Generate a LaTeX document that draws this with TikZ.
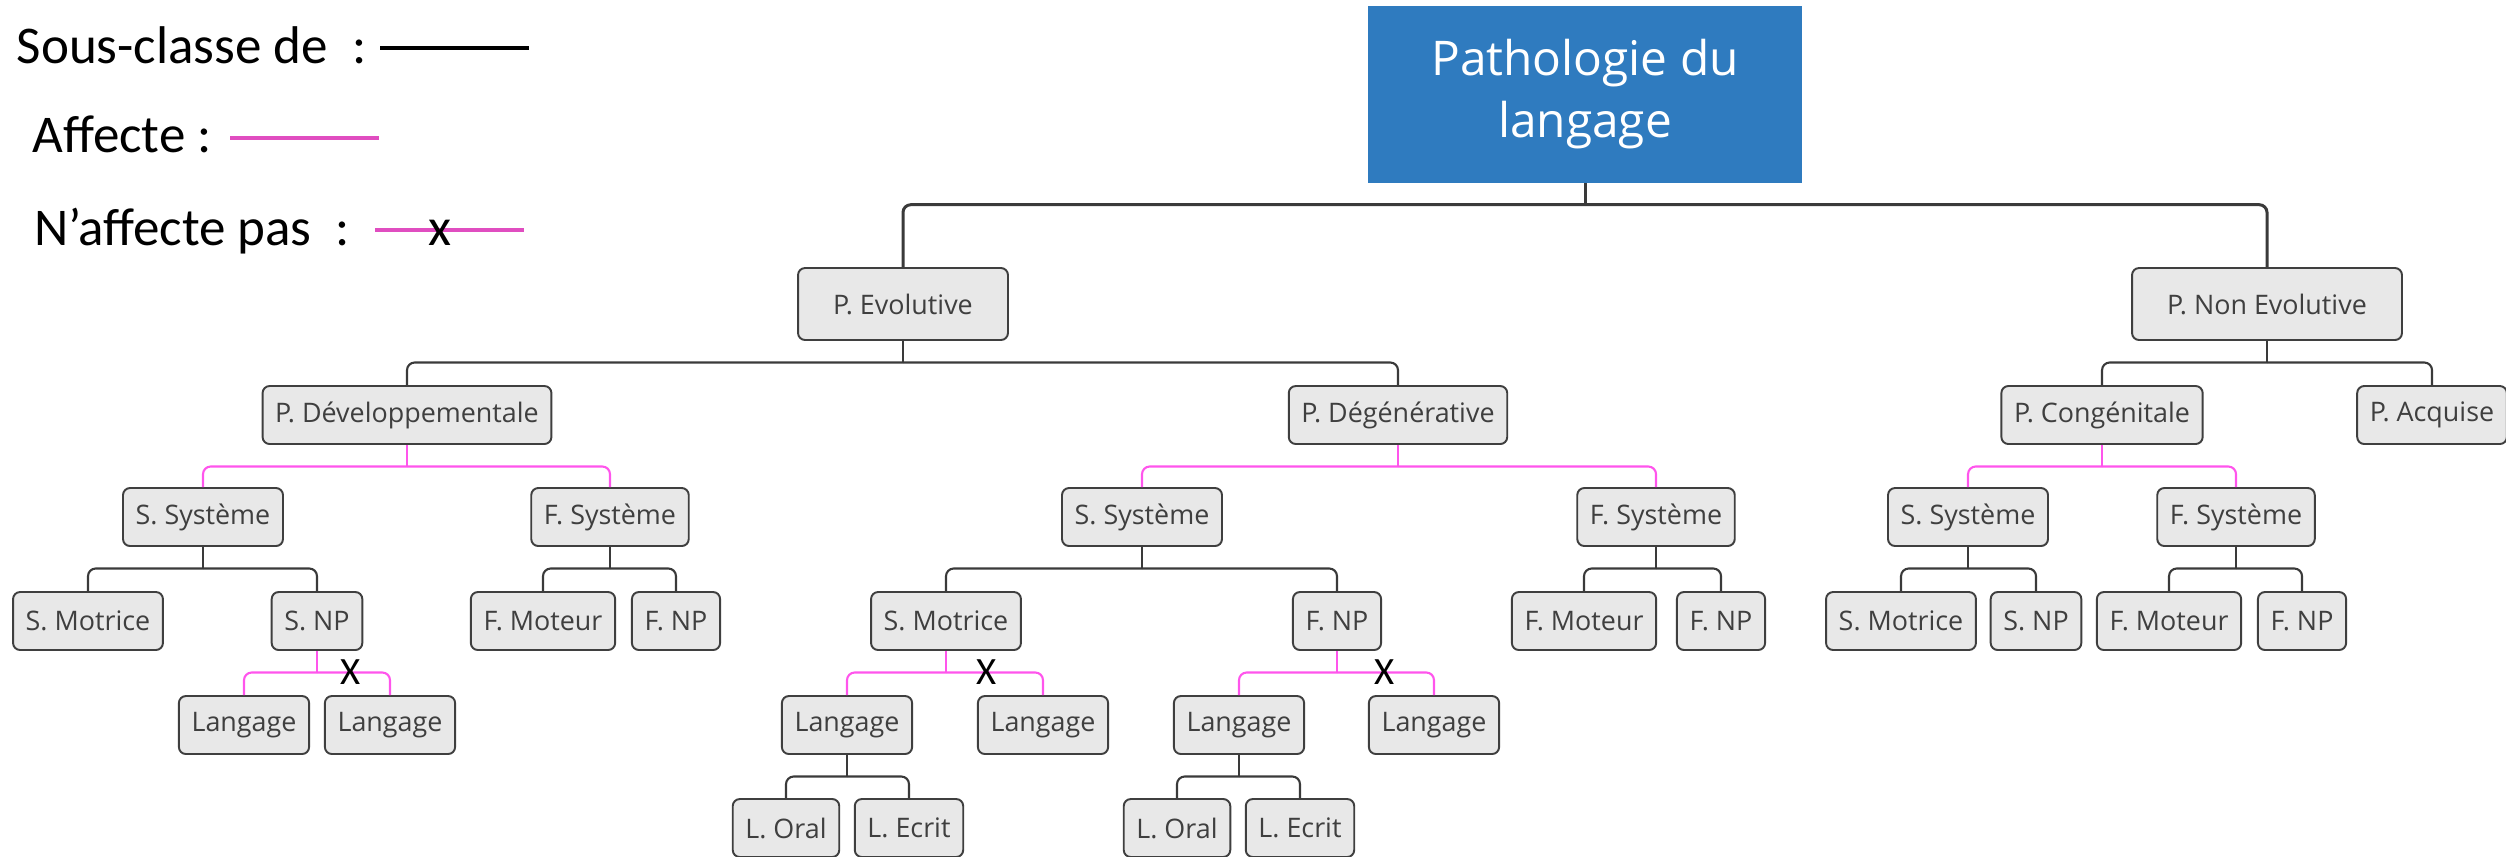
\documentclass[tikz,border=0pt]{standalone}
\usepackage{fontspec}
\setmainfont{Open Sans}
\newfontfamily\legendfont{Carlito}
\usetikzlibrary{positioning}
\definecolor{boxfill}{HTML}{E8E8E8}
\definecolor{boxline}{HTML}{3F3F3F}
\definecolor{rootblue}{HTML}{2F7BBF}
\definecolor{affpink}{HTML}{FF55EC}
\definecolor{legpink}{HTML}{E04DC0}
\definecolor{linegray}{HTML}{3A3A3A}

\begin{document}
\begin{tikzpicture}[
  patho/.style={
    rectangle, rounded corners=2pt, minimum height=0.58cm, inner xsep=3.6pt,
    draw=boxline, line width=0.55pt, fill=boxfill, text=boxline,
    font=\fontsize{7.65}{9}\selectfont
  },
  bigpatho/.style={patho, minimum height=0.72cm, inner xsep=10pt},
  rootbox/.style={
    rectangle, minimum width=4.34cm, minimum height=1.77cm, align=center,
    fill=rootblue, text=white, font=\fontsize{13.6}{17.6}\selectfont
  },
  sub/.style={draw=linegray, line width=0.6pt, rounded corners=2.2pt},
  aff/.style={draw=affpink, line width=0.6pt, rounded corners=2.2pt},
  cross/.style={font=\legendfont\fontsize{11}{12}\selectfont, inner sep=0pt},
  legend/.style={font=\legendfont\fontsize{15.1}{17}\selectfont, inner sep=0pt, anchor=base west}
]
\useasboundingbox (0,0) rectangle (25.06,-8.56);

% === Legend ===
\node[legend] (legSub) at (0.16,-0.63) {Sous-classe de\ \ :};
\node[legend] (legAff) at (0.32,-1.52) {Affecte :};
\node[legend] (legNot) at (0.34,-2.45) {N’affecte pas\ \ :};
\coordinate (subA) at (3.80,-0.48);
\coordinate (subB) at (5.29,-0.48);
\coordinate (affA) at (2.30,-1.38);
\coordinate (affB) at (3.79,-1.38);
\coordinate (notA) at (3.75,-2.30);
\coordinate (notB) at (5.24,-2.30);
\draw[black, line width=1.4pt] (subA) -- (subB);
\draw[legpink, line width=1.1pt] (affA) -- (affB);
\draw[legpink, line width=1.1pt] (notA) -- (notB);
\node[legend, anchor=base] (notX) at (4.40,-2.45) {x};

% === Root ===
\node[rootbox] (root) at (15.85,-0.94) {Pathologie du\\langage};

% === Level 1 and 2 ===
\node[bigpatho] (ev) at (9.03,-3.04) {P. Evolutive};
\node[bigpatho] (nev) at (22.67,-3.04) {P. Non Evolutive};
\node[patho] (dev) at (4.07,-4.15) {P. Développementale};
\node[patho] (deg) at (13.98,-4.15) {P. Dégénérative};
\node[patho] (cong) at (21.02,-4.15) {P. Congénitale};
\node[patho] (acq) at (24.32,-4.15) {P. Acquise};

% === Systems ===
\node[patho] (ssDev) at (2.03,-5.17) {S. Système};
\node[patho] (fsDev) at (6.10,-5.17) {F. Système};
\node[patho] (ssDeg) at (11.42,-5.17) {S. Système};
\node[patho] (fsDeg) at (16.56,-5.17) {F. Système};
\node[patho] (ssCon) at (19.68,-5.17) {S. Système};
\node[patho] (fsCon) at (22.36,-5.17) {F. Système};

% === Sub-systems ===
\node[patho] (smDev) at (0.88,-6.21) {S. Motrice};
\node[patho] (snpDev) at (3.17,-6.21) {S. NP};
\node[patho] (fmDev) at (5.43,-6.21) {F. Moteur};
\node[patho] (fnpDev) at (6.76,-6.21) {F. NP};
\node[patho] (smDeg) at (9.46,-6.21) {S. Motrice};
\node[patho] (fnpDegS) at (13.37,-6.21) {F. NP};
\node[patho] (fmDeg) at (15.84,-6.21) {F. Moteur};
\node[patho] (fnpDegF) at (17.21,-6.21) {F. NP};
\node[patho] (smCon) at (19.01,-6.21) {S. Motrice};
\node[patho] (snpCon) at (20.36,-6.21) {S. NP};
\node[patho] (fmCon) at (21.69,-6.21) {F. Moteur};
\node[patho] (fnpCon) at (23.02,-6.21) {F. NP};

% === Langage ===
\node[patho] (lgDev1) at (2.44,-7.25) {Langage};
\node[patho] (lgDev2) at (3.90,-7.25) {Langage};
\node[patho] (lgSm1) at (8.47,-7.25) {Langage};
\node[patho] (lgSm2) at (10.43,-7.25) {Langage};
\node[patho] (lgFnp1) at (12.39,-7.25) {Langage};
\node[patho] (lgFnp2) at (14.34,-7.25) {Langage};
\node[patho] (loSm) at (7.86,-8.28) {L. Oral};
\node[patho] (leSm) at (9.09,-8.28) {L. Ecrit};
\node[patho] (loFnp) at (11.77,-8.28) {L. Oral};
\node[patho] (leFnp) at (13.00,-8.28) {L. Ecrit};

% === Stems ===
\draw[sub, line width=0.85pt] (root.south) -- ++(0,-0.215) coordinate (root-bar);
\foreach \p in {ev, nev, ssDev, fsDev, ssDeg, fsDeg, ssCon, fsCon, lgSm1, lgFnp1}
  \draw[sub] (\p.south) -- ++(0,-0.215) coordinate (\p-bar);
\foreach \p in {dev, deg, cong, snpDev, smDeg, fnpDegS}
  \draw[aff] (\p.south) -- ++(0,-0.215) coordinate (\p-bar);

% === Sous-classe de ===
\foreach \c in {ev, nev}
  \draw[sub, line width=0.85pt] (root-bar) -| (\c.north);
\foreach \c in {dev, deg} \draw[sub] (ev-bar) -| (\c.north);
\foreach \c in {cong, acq} \draw[sub] (nev-bar) -| (\c.north);
\foreach \c in {smDev, snpDev} \draw[sub] (ssDev-bar) -| (\c.north);
\foreach \c in {fmDev, fnpDev} \draw[sub] (fsDev-bar) -| (\c.north);
\foreach \c in {smDeg, fnpDegS} \draw[sub] (ssDeg-bar) -| (\c.north);
\foreach \c in {fmDeg, fnpDegF} \draw[sub] (fsDeg-bar) -| (\c.north);
\foreach \c in {smCon, snpCon} \draw[sub] (ssCon-bar) -| (\c.north);
\foreach \c in {fmCon, fnpCon} \draw[sub] (fsCon-bar) -| (\c.north);
\foreach \c in {loSm, leSm} \draw[sub] (lgSm1-bar) -| (\c.north);
\foreach \c in {loFnp, leFnp} \draw[sub] (lgFnp1-bar) -| (\c.north);

% === Affecte ===
\foreach \c in {ssDev, fsDev} \draw[aff] (dev-bar) -| (\c.north);
\foreach \c in {ssDeg, fsDeg} \draw[aff] (deg-bar) -| (\c.north);
\foreach \c in {ssCon, fsCon} \draw[aff] (cong-bar) -| (\c.north);
\draw[aff] (snpDev-bar) -| (lgDev1.north);
\draw[aff] (smDeg-bar) -| (lgSm1.north);
\draw[aff] (fnpDegS-bar) -| (lgFnp1.north);

% === N'affecte pas ===
\draw[aff] (snpDev-bar) -| node[cross, pos=0.23] (xDev) {X} (lgDev2.north);
\draw[aff] (smDeg-bar) -| node[cross, pos=0.21] (xSm) {X} (lgSm2.north);
\draw[aff] (fnpDegS-bar) -| node[cross, pos=0.245] (xFnp) {X} (lgFnp2.north);

\end{tikzpicture}
\end{document}
